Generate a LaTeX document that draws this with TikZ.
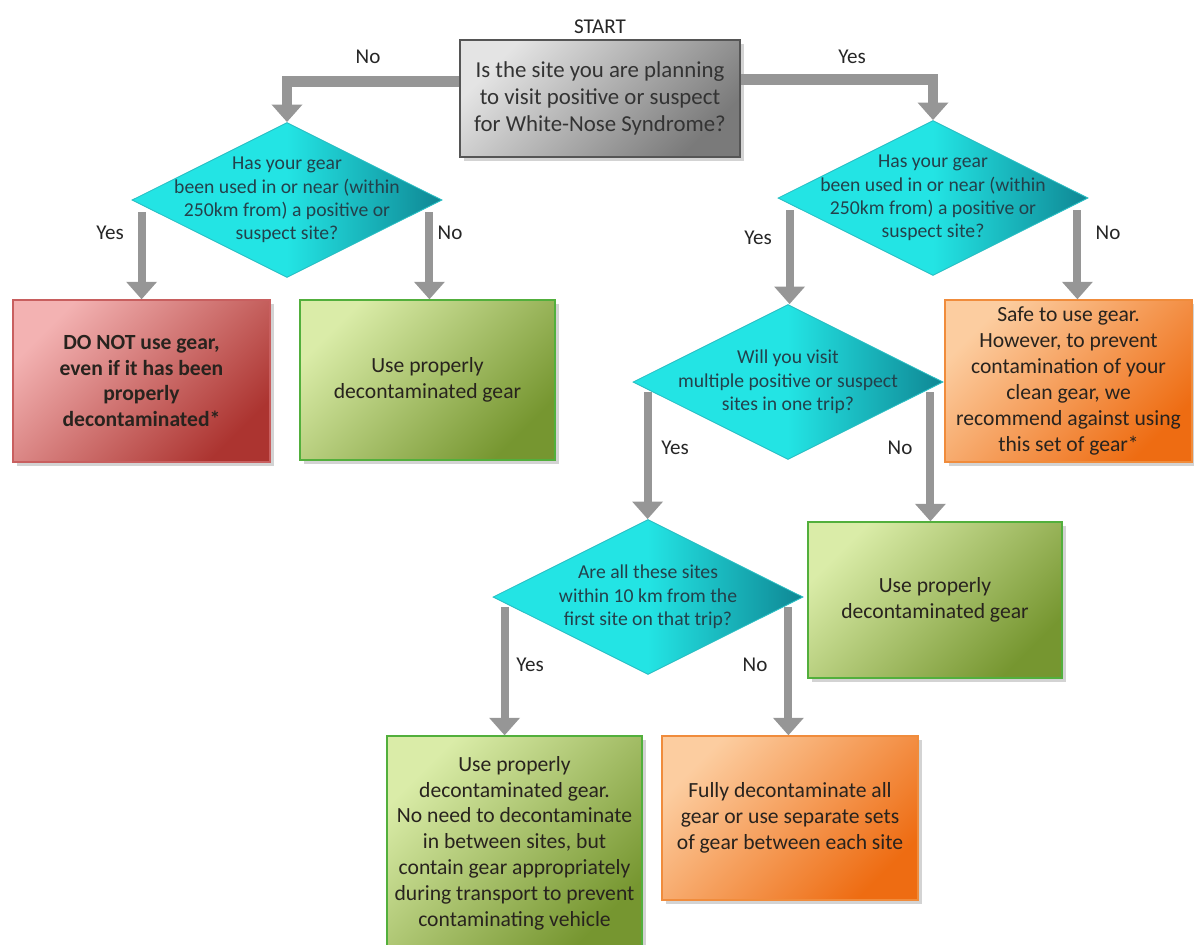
\documentclass[tikz,border=0pt]{standalone}
\usepackage{fontspec}
\setmainfont{Carlito}
\usetikzlibrary{arrows.meta,shapes.geometric,shadows}

\definecolor{qcyan}{RGB}{35,228,228}
\definecolor{qteal}{RGB}{15,135,148}
\definecolor{qline}{RGB}{40,190,195}
\definecolor{qtext}{RGB}{35,65,75}
\definecolor{arrowgray}{RGB}{150,150,150}
\definecolor{startlight}{RGB}{228,228,228}
\definecolor{startdark}{RGB}{122,122,122}
\definecolor{startline}{RGB}{85,85,85}
\definecolor{redlight}{RGB}{243,178,178}
\definecolor{reddark}{RGB}{172,52,48}
\definecolor{redline}{RGB}{200,95,95}
\definecolor{greenlight}{RGB}{218,236,168}
\definecolor{greendark}{RGB}{118,150,48}
\definecolor{greenline}{RGB}{82,175,60}
\definecolor{orangelight}{RGB}{252,205,160}
\definecolor{orangedark}{RGB}{238,108,18}
\definecolor{orangeline}{RGB}{240,140,60}
\definecolor{boxtext}{RGB}{40,35,30}

\begin{document}
\begin{tikzpicture}[x=0.02cm, y=-0.02cm,
    box/.style={rectangle, line width=0.8pt, align=center, text=boxtext, inner sep=3pt,
        font=\fontsize{12.3}{14.7}\selectfont,
        drop shadow={opacity=0.35, shadow xshift=2.5pt, shadow yshift=-2.5pt}},
    startbox/.style={box, draw=startline, top color=startlight, bottom color=startdark,
        shading angle=45, text=black!80, font=\fontsize{13}{15.3}\selectfont,
        minimum width=5.6cm, minimum height=2.34cm},
    redbox/.style={box, draw=redline, top color=redlight, bottom color=reddark,
        shading angle=45, font=\bfseries\fontsize{12.3}{14.7}\selectfont},
    greenbox/.style={box, draw=greenline, top color=greenlight, bottom color=greendark,
        shading angle=45},
    orangebox/.style={box, draw=orangeline, top color=orangelight, bottom color=orangedark,
        shading angle=45},
    decision/.style={diamond, draw=qline, line width=0.5pt, inner sep=0pt,
        minimum width=6.2cm, minimum height=3.1cm,
        left color=qcyan, right color=qteal, middle color=qcyan},
    qlabel/.style={align=center, text=qtext, font=\fontsize{11.2}{13.3}\selectfont},
    lbl/.style={font=\fontsize{12}{14}\selectfont, text=black!85},
    flow/.style={draw=arrowgray, line width=4.5pt,
        -{Triangle[width=17pt,length=10pt]}}]

    \useasboundingbox (0,0) rectangle (1194,944);
    \clip (0,0) rectangle (1194,944);

    % start question
    \node[lbl] (start_lbl) at (600,27) {START};
    \node[startbox] (start_q) at (600,98.5)
        {Is the site you are planning\\to visit positive or suspect\\for White-Nose Syndrome?};

    % gear questions
    \node[decision, label={[qlabel]center:{Has your gear\\been used in or near (within\\250km from) a positive or\\suspect site?}}]
        (gear_q_left) at (287,200) {};
    \node[decision, label={[qlabel]center:{Has your gear\\been used in or near (within\\250km from) a positive or\\suspect site?}}]
        (gear_q_right) at (933,198) {};
    \node[decision, label={[qlabel]center:{Will you visit\\multiple positive or suspect\\sites in one trip?}}]
        (multi_q) at (788,382) {};
    \node[decision, label={[qlabel]center:{Are all these sites\\within 10 km from the\\first site on that trip?}}]
        (near_q) at (648,597) {};

    % outcomes
    \node[redbox, minimum width=5.14cm, minimum height=3.24cm] (no_use) at (141.5,381)
        {DO NOT use gear,\\even if it has been\\properly\\decontaminated*};
    \node[greenbox, minimum width=5.1cm, minimum height=3.2cm] (use_clean_a) at (427.5,380)
        {Use properly\\decontaminated gear};
    \node[orangebox, minimum width=4.94cm, minimum height=3.24cm] (safe_use) at (1068.5,381)
        {Safe to use gear.\\However, to prevent\\contamination of your\\clean gear, we\\recommend against using\\this set of gear*};
    \node[greenbox, minimum width=5.08cm, minimum height=3.12cm] (use_clean_b) at (935,600)
        {Use properly\\decontaminated gear};
    \node[greenbox, minimum width=5.1cm, minimum height=4.28cm] (use_clean_c) at (514.5,843)
        {Use properly\\decontaminated gear.\\No need to decontaminate\\in between sites, but\\contain gear appropriately\\during transport to prevent\\contaminating vehicle};
    \node[orangebox, minimum width=5.12cm, minimum height=3.28cm] (full_decon) at (790,818)
        {Fully decontaminate all\\gear or use separate sets\\of gear between each site};

    % connectors
    \draw[flow, line width=6pt] (start_q.west) ++(0,-17) -| (gear_q_left.north);
    \draw[flow, line width=6pt] (start_q.east) ++(0,-19) -| (gear_q_right.north);
    \draw[flow] (gear_q_left.west) ++(10,12) coordinate (s1) -- (s1 |- no_use.north);
    \draw[flow] (gear_q_left.east) ++(-13,12) coordinate (s2) -- (s2 |- use_clean_a.north);
    \draw[flow] (gear_q_right.west) ++(12,12) coordinate (s3) -- (s3 |- multi_q.north);
    \draw[flow] (gear_q_right.east) ++(-11,12) coordinate (s4) -- (s4 |- safe_use.north);
    \draw[flow] (multi_q.west) ++(15,10) coordinate (s5) -- (s5 |- near_q.north);
    \draw[flow] (multi_q.east) ++(-13,10) coordinate (s6) -- (s6 |- use_clean_b.north);
    \draw[flow] (near_q.west) ++(12,10) coordinate (s7) -- (s7 |- use_clean_c.north);
    \draw[flow] (near_q.east) ++(-15,10) coordinate (s8) -- (s8 |- full_decon.north);

    % branch labels
    \node[lbl] (no_a) at (368,57) {No};
    \node[lbl] (yes_a) at (852,57) {Yes};
    \node[lbl] (yes_b) at (110,233) {Yes};
    \node[lbl] (no_b) at (450,233) {No};
    \node[lbl] (yes_c) at (758,238) {Yes};
    \node[lbl] (no_c) at (1108,233) {No};
    \node[lbl] (yes_d) at (675,448) {Yes};
    \node[lbl] (no_d) at (900,448) {No};
    \node[lbl] (yes_e) at (530,665) {Yes};
    \node[lbl] (no_e) at (755,665) {No};
\end{tikzpicture}
\end{document}
